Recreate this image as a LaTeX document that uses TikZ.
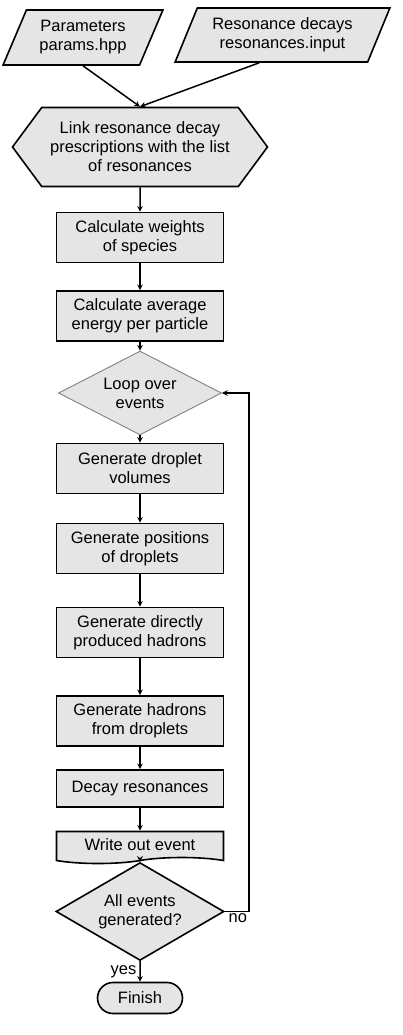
\documentclass[tikz,border=0pt]{standalone}
\usepackage{fontspec}
\setmainfont{Liberation Sans}
\usetikzlibrary{shapes,arrows,positioning}
\tikzstyle{data} = [trapezium, trapezium left angle=62, trapezium right angle=-62, trapezium stretches=true, draw, fill=gray!20, line width=1.6pt, align=center, inner sep=0pt]
\tikzstyle{prep} = [signal, signal to=west and east, signal pointer angle=107, draw, fill=gray!20, line width=1.6pt, align=center, minimum width=255pt, minimum height=79pt, inner sep=0pt]
\tikzstyle{process} = [rectangle, draw, fill=gray!20, line width=1.6pt, align=center, minimum width=167pt, minimum height=50pt, inner sep=0pt]
\tikzstyle{decision} = [diamond, draw, fill=gray!20, line width=1.6pt, align=center, inner xsep=0pt, inner ysep=-10pt]
\tikzstyle{docbox} = [tape, tape bend top=none, tape bend height=6pt, draw, fill=gray!20, line width=1.6pt, align=center, minimum width=167pt, minimum height=32pt, inner sep=0pt]
\tikzstyle{terminal} = [rounded rectangle, draw, fill=gray!20, line width=1.6pt, minimum width=85pt, minimum height=31pt, inner sep=0pt]

\begin{document}
\begin{tikzpicture}[>=stealth, line width=1.5pt, font=\fontsize{16.5pt}{19pt}\selectfont]
   \useasboundingbox (0,0) rectangle (402pt,-1035pt);
   % nodes
   \node[data, minimum width=160pt, minimum height=55pt] (par) at (83pt,-37.5pt) {Parameters\\params.hpp};
   \node[data, minimum width=215pt, minimum height=54pt] (res) at (282.5pt,-35pt) {Resonance decays\\resonances.input};
   \node[prep] (link) at (140pt,-147pt)                                {Link resonance decay\\prescriptions with the list\\of resonances};
   \node[process] (weights) [below of=link, node distance=90.5pt]     {Calculate weights\\of species};
   \node[process] (energy) [below of=weights, node distance=78.5pt]   {Calculate average\\energy per particle};
   \node[decision, draw=gray, line width=0.9pt, minimum width=163pt, minimum height=59pt] (loop) [below of=energy, node distance=77pt] {Loop over\\events};
   \node[process] (volumes) [below of=loop, node distance=75.5pt]     {Generate droplet\\volumes};
   \node[process] (positions) [below of=volumes, node distance=80pt]  {Generate positions\\of droplets};
   \node[process] (direct) [below of=positions, node distance=84pt]   {Generate directly\\produced hadrons};
   \node[process] (hadrons) [below of=direct, node distance=88.5pt]   {Generate hadrons\\from droplets};
   \node[process, minimum height=37pt] (decay) [below of=hadrons, node distance=67.5pt] {Decay resonances};
   \node[docbox] (write) [below of=decay, node distance=56pt]         {Write out event};
   \node[decision, minimum width=168pt, minimum height=72pt] (done) [below of=write, node distance=67pt] {All events\\generated?};
   \node[terminal] (finish) [below of=done, node distance=86.5pt]     {Finish};

   % edges
	\draw[->] (par.south) to (link.north);
	\draw[->] (res.-130) to (link.north);
	\draw[->] (link) to (weights);
	\draw[->] (weights) to (energy);
	\draw[->] (energy) to (loop);
	\draw[->] (loop) to (volumes);
	\draw[->] (volumes) to (positions);
	\draw[->] (positions) to (direct);
	\draw[->] (direct) to (hadrons);
	\draw[->] (hadrons) to (decay);
	\draw[->] (decay) to (write);
	\draw[->] (write) to (done);
	\draw[->] (done) to node[left, inner sep=3pt] {yes} (finish);
	\draw[->] (done.east) -- ++(24pt,0) node[below left, inner sep=1pt] {no} |- (loop.east);
\end{tikzpicture}
\end{document}
